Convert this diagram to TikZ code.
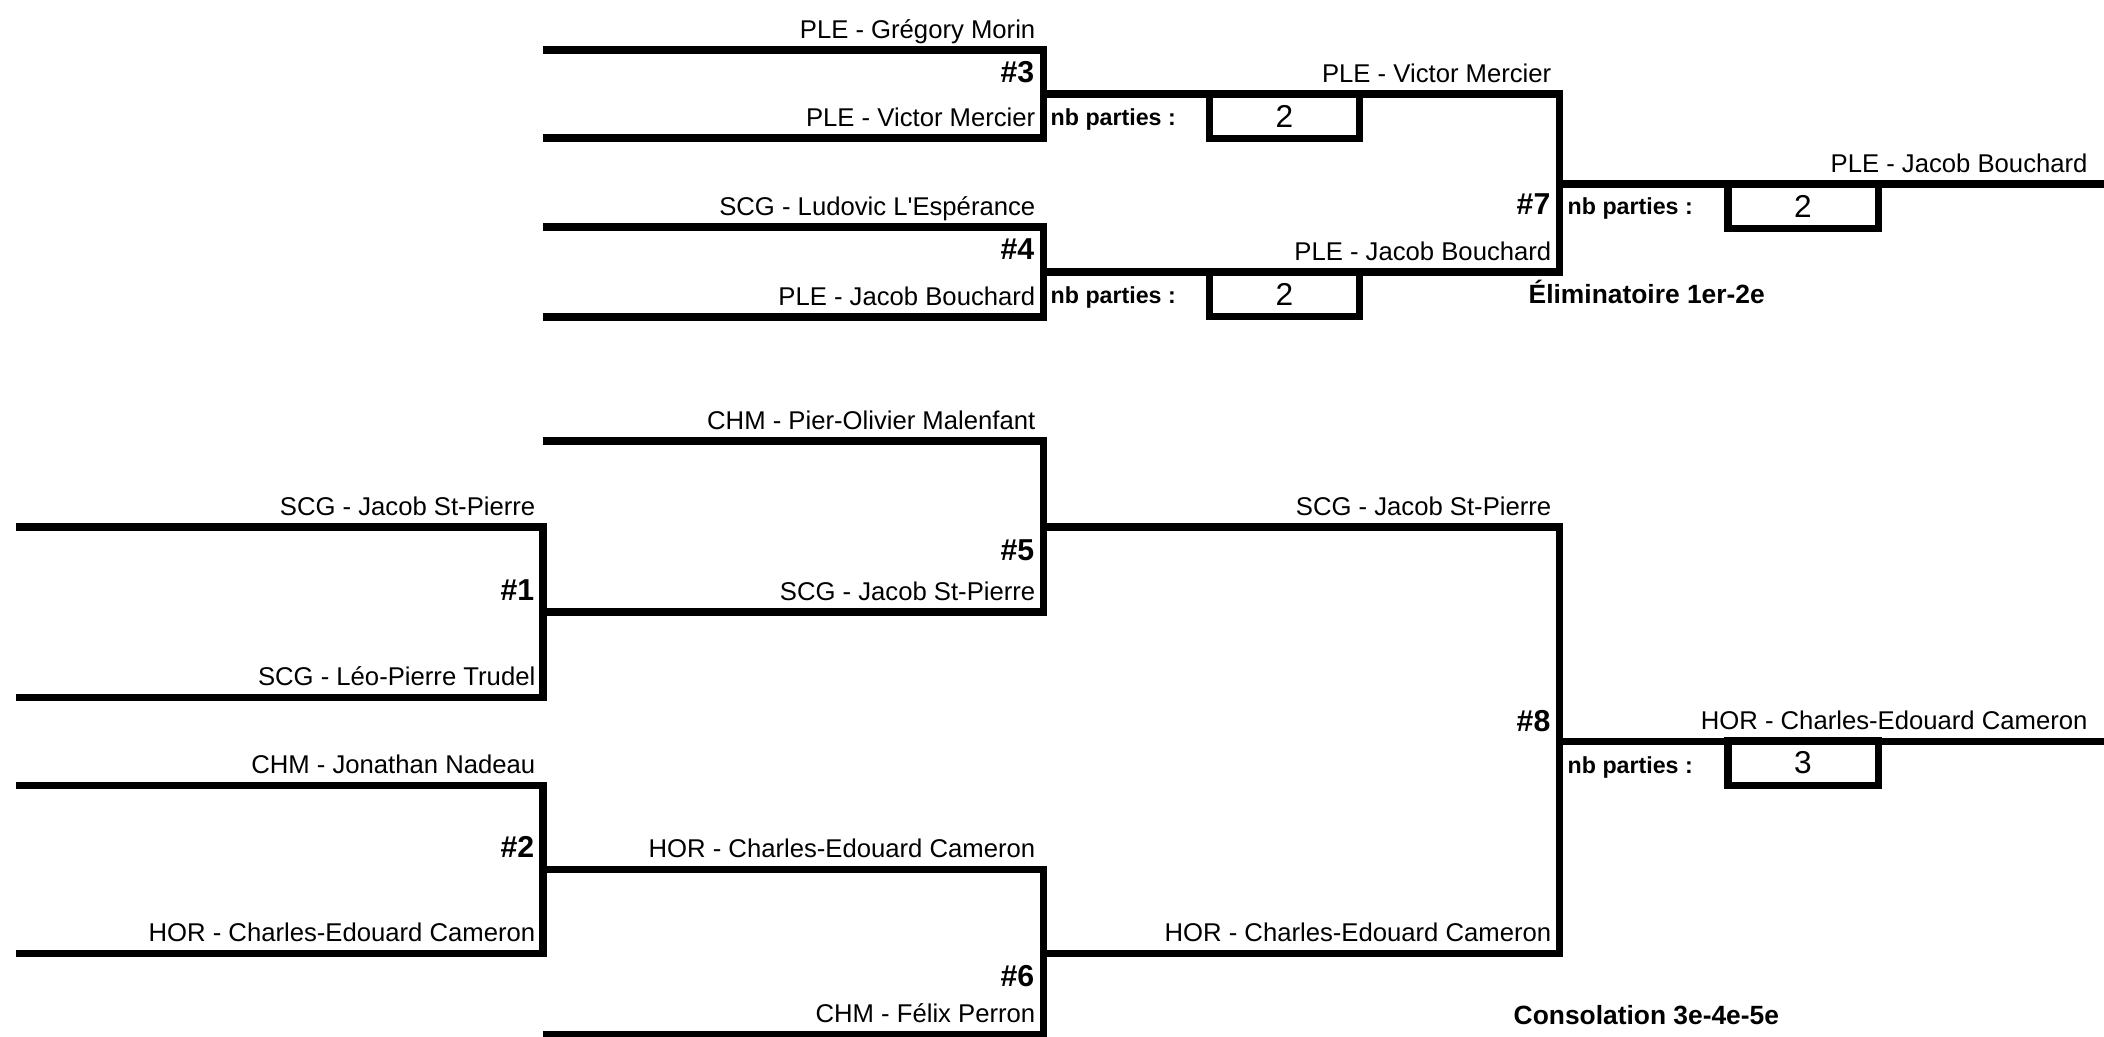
\documentclass[tikz,border=0pt]{standalone}
\usepackage{fontspec}
\setmainfont{Liberation Sans}[Ligatures=TeXOff]
\usetikzlibrary{positioning}

\begin{document}
\begin{tikzpicture}[x=0.01cm, y=-0.01cm,
    bk/.style={line width=2pt, line join=miter},
    nm/.style={font=\fontsize{7.3}{8}\selectfont, anchor=base east, inner sep=0pt, xshift=-2pt, yshift=3.4pt},
    num/.style={font=\fontsize{8.6}{9}\selectfont\bfseries, anchor=base east, inner sep=0pt},
    np/.style={font=\fontsize{6.6}{7}\selectfont\bfseries, anchor=base west, inner sep=0pt},
    score/.style={draw, line width=2pt, minimum width=1.5cm, minimum height=0.44cm, inner sep=0pt, font=\fontsize{9}{10}\selectfont},
    ttl/.style={font=\fontsize{7.5}{8}\selectfont\bfseries, anchor=base west, inner sep=0pt}
]
    \useasboundingbox (0,0) rectangle (2104,1036);

    % Eliminatoire 1er-2e
    \coordinate (a1) at (543,50);    \coordinate (m3t) at (1043,50);
    \coordinate (a2) at (543,138);   \coordinate (m3b) at (1043,138);
    \coordinate (m3o) at (1043,94);
    \coordinate (b1) at (543,227);   \coordinate (m4t) at (1043,227);
    \coordinate (b2) at (543,317);   \coordinate (m4b) at (1043,317);
    \coordinate (m4o) at (1043,272);
    \coordinate (m7t) at (1559,94);  \coordinate (m7b) at (1559,272);
    \coordinate (m7o) at (1559,184); \coordinate (w1) at (2104,184);

    \draw[bk] (a1) -- (m3t) -- (m3b) -- (a2);
    \draw[bk] (b1) -- (m4t) -- (m4b) -- (b2);
    \draw[bk] (m3o) -- (m7t) -- (m7b) -- (m4o);
    \draw[bk] (m7o) -- (w1);

    \node[nm] (gmorin) at (m3t) {PLE - Grégory Morin};
    \node[nm] (vmercier) at (m3b) {PLE - Victor Mercier};
    \node[nm] (lesperance) at (m4t) {SCG - Ludovic L'Espérance};
    \node[nm] (jbouchard) at (m4b) {PLE - Jacob Bouchard};
    \node[nm] (win3) at (m7t) {PLE - Victor Mercier};
    \node[nm] (win4) at (m7b) {PLE - Jacob Bouchard};
    \node[nm, xshift=-2.5pt] (win7) at (w1) {PLE - Jacob Bouchard};

    \node[num] (g3) at (1035,82) {\#3};
    \node[num] (g4) at (1035,259) {\#4};
    \node[num] (g7) at (1551,214) {\#7};

    \node[np] (np3) at (1050,125) {nb parties :};
    \node[np] (np4) at (1050,303) {nb parties :};
    \node[np] (np7) at (1567,214) {nb parties :};
    \node[score] (s3) at (1284.5,116) {2};
    \node[score] (s4) at (1284.5,294.5) {2};
    \node[score] (s7) at (1803,206) {2};

    \node[ttl] (elim) at (1528,303) {Éliminatoire 1er-2e};

    % Consolation 3e-4e-5e
    \coordinate (c1) at (543,441);   \coordinate (m5t) at (1043,441);
    \coordinate (d1) at (16,527);    \coordinate (m1t) at (543,527);
    \coordinate (d2) at (16,697);    \coordinate (m1b) at (543,697);
    \coordinate (m1o) at (543,612);  \coordinate (m5b) at (1043,612);
    \coordinate (m5o) at (1043,527);
    \coordinate (e1) at (16,785);    \coordinate (m2t) at (543,785);
    \coordinate (e2) at (16,953);    \coordinate (m2b) at (543,953);
    \coordinate (m2o) at (543,869);  \coordinate (m6t) at (1043,869);
    \coordinate (f1) at (543,1034);  \coordinate (m6b) at (1043,1034);
    \coordinate (m6o) at (1043,953);
    \coordinate (m8t) at (1559,527); \coordinate (m8b) at (1559,953);
    \coordinate (m8o) at (1559,741); \coordinate (w2) at (2104,741);

    \draw[bk] (d1) -- (m1t) -- (m1b) -- (d2);
    \draw[bk] (e1) -- (m2t) -- (m2b) -- (e2);
    \draw[bk] (c1) -- (m5t) -- (m5b) -- (m1o);
    \draw[bk] (m2o) -- (m6t) -- (m6b) -- (f1);
    \draw[bk] (m5o) -- (m8t) -- (m8b) -- (m6o);
    \draw[bk] (m8o) -- (w2);

    \node[nm] (pomalenfant) at (m5t) {CHM - Pier-Olivier Malenfant};
    \node[nm] (jstpierre) at (m1t) {SCG - Jacob St-Pierre};
    \node[nm] (lptrudel) at (m1b) {SCG - Léo-Pierre Trudel};
    \node[nm] (win1) at (m5b) {SCG - Jacob St-Pierre};
    \node[nm] (jnadeau) at (m2t) {CHM - Jonathan Nadeau};
    \node[nm] (cecameron) at (m2b) {HOR - Charles-Edouard Cameron};
    \node[nm] (win2) at (m6t) {HOR - Charles-Edouard Cameron};
    \node[nm] (fperron) at (m6b) {CHM - Félix Perron};
    \node[nm] (win5) at (m8t) {SCG - Jacob St-Pierre};
    \node[nm] (win6) at (m8b) {HOR - Charles-Edouard Cameron};
    \node[nm, xshift=-2.5pt] (win8) at (w2) {HOR - Charles-Edouard Cameron};

    \node[num] (g1) at (535,600) {\#1};
    \node[num] (g5) at (1035,560) {\#5};
    \node[num] (g2) at (535,857) {\#2};
    \node[num] (g6) at (1035,986) {\#6};
    \node[num] (g8) at (1551,731) {\#8};

    \node[np] (np8) at (1567,773) {nb parties :};
    \node[score] (s8) at (1803,763) {3};

    \node[ttl] (cons) at (1513,1024) {Consolation 3e-4e-5e};
\end{tikzpicture}
\end{document}
